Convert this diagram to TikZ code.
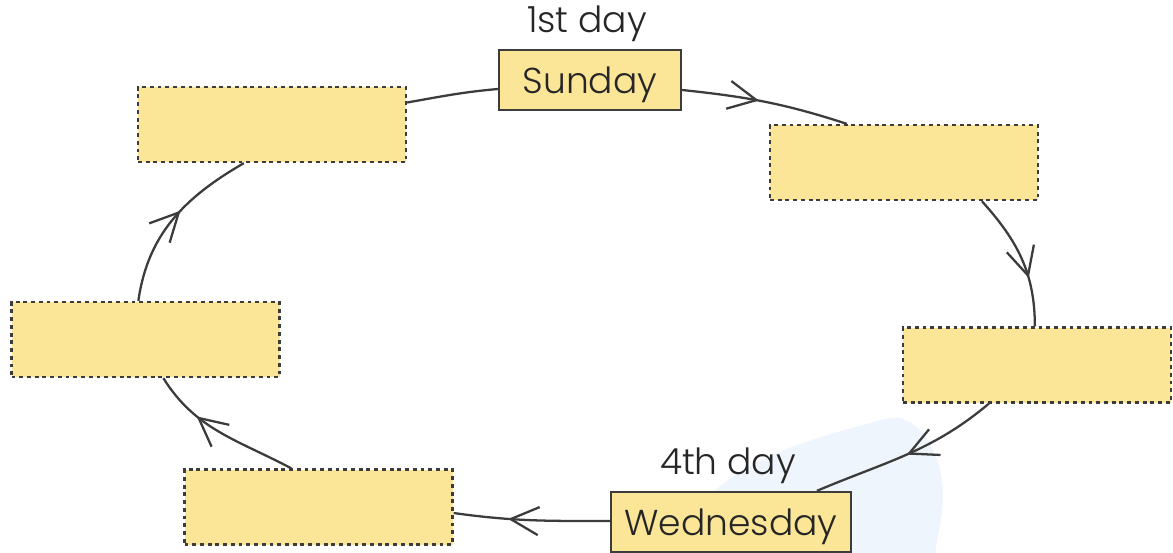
\documentclass[tikz,border=0pt]{standalone}
\usepackage{fontspec}
\setmainfont{Poppins}[UprightFont=* Light]
\usetikzlibrary{arrows.meta,decorations.markings,calc}
\definecolor{boxfill}{HTML}{FAE696}
\definecolor{linegray}{HTML}{3C3C3C}
\definecolor{blob}{HTML}{EEF5FC}
\tikzset{
  daybox/.style={draw=linegray,line width=1.3pt,fill=boxfill,minimum width=182*0.02cm,minimum height=60*0.02cm,inner sep=0pt,font=\fontsize{20.5}{24}\selectfont,text=black!85},
  blankbox/.style={draw=linegray,line width=1.3pt,fill=boxfill,dash pattern=on 2.2pt off 2.2pt,minimum width=268*0.02cm,minimum height=75*0.02cm,inner sep=0pt},
  lab/.style={font=\fontsize{20.5}{24}\selectfont,text=black!85,inner sep=0pt},
  conn/.style={draw=linegray,line width=1.3pt},
  arr/.style={conn,postaction={decorate},decoration={markings,mark=at position #1 with {\arrow[linegray,line width=1.3pt]{Straight Barb[length=16pt,width=16pt]}}}}
}
\begin{document}
\begin{tikzpicture}[x=0.02cm,y=-0.02cm]
\useasboundingbox (0,0) rectangle (1173,552);
\begin{scope}
\clip (0,0) rectangle (1173,552);
\fill[blob] (665,565) to[out=70,in=195] (885,419) to[out=15,in=90] (943,495) to[out=-90,in=90] (935,565) -- cycle;
\end{scope}
\node[daybox] (sun) at (590,80) {\raisebox{-0.26cm}[0pt][0pt]{Sunday}};
\node[daybox,minimum width=240*0.02cm] (wed) at (731,522) {\raisebox{-0.26cm}[0pt][0pt]{Wednesday}};
\node[blankbox] (tl) at (272,124.5) {};
\node[blankbox] (tr) at (904,162.5) {};
\node[blankbox] (r) at (1037,365) {};
\node[blankbox] (l) at (145.5,339.5) {};
\node[blankbox] (bl) at (318.5,507) {};
\node[lab] (l1) at (587,24) {1st day};
\node[lab] (l4) at (728,466) {4th day};
\coordinate (sunR) at ($(sun.east)+(0,10)$);
\coordinate (sunL) at ($(sun.west)+(0,9)$);
\coordinate (trT) at ($(tr.north west)+(78,0)$);
\coordinate (trB) at ($(tr.south west)+(213,0)$);
\coordinate (rT) at ($(r.north west)+(133,0)$);
\coordinate (rB) at ($(r.south west)+(87,0)$);
\coordinate (wedT) at ($(wed.north west)+(207,0)$);
\coordinate (wedL) at ($(wed.west)+(0,-1)$);
\coordinate (blR) at ($(bl.east)+(0,6)$);
\coordinate (blT) at ($(bl.north west)+(108,0)$);
\coordinate (lB) at ($(l.south west)+(153,0)$);
\coordinate (lT) at ($(l.north west)+(128,0)$);
\coordinate (tlB) at ($(tl.south west)+(107,0)$);
\coordinate (tlR) at ($(tl.east)+(0,-22)$);
\draw[arr=0.46] (sunR) to[out=-6,in=162] (trT);
\draw[arr=0.65] (trB) to[out=-48,in=90] (rT);
\draw[arr=0.5] (rB) to[out=-140,in=23] (wedT);
\draw[arr=0.65] (wedL) to[out=180,in=-8] (blR);
\draw[arr=0.68] (blT) to[out=152,in=-58] (lB);
\draw[arr=0.56] (lT) to[out=82,in=-150] (tlB);
\draw[conn] (tlR) to[out=10,in=185] (sunL);
\end{tikzpicture}
\end{document}
